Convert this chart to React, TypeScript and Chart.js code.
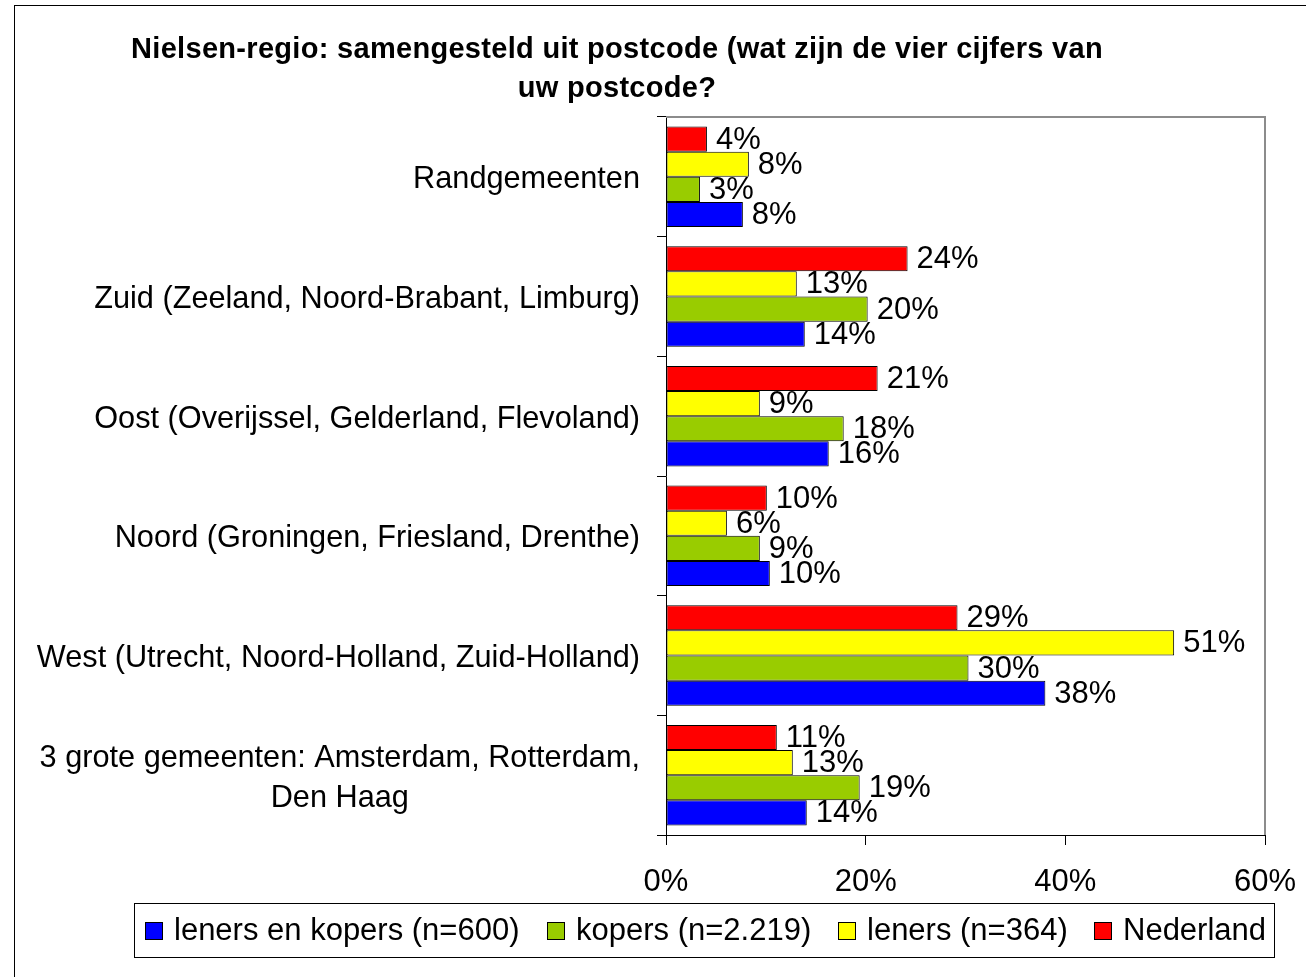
import React, { useEffect, useRef } from "react";
import { Chart, registerables } from "chart.js";

Chart.register(...registerables);

const FONT = '"Liberation Sans", Arial, sans-serif';

const titleLines = [
  "Nielsen-regio: samengesteld uit postcode (wat zijn de vier cijfers van",
  "uw postcode?",
];

const categories: (string | string[])[] = [
  "Randgemeenten",
  "Zuid (Zeeland, Noord-Brabant, Limburg)",
  "Oost (Overijssel, Gelderland, Flevoland)",
  "Noord (Groningen, Friesland, Drenthe)",
  "West (Utrecht, Noord-Holland, Zuid-Holland)",
  ["3 grote gemeenten: Amsterdam, Rotterdam,", "Den Haag"],
];

const nederland = [4.1, 24.2, 21.2, 10.1, 29.2, 11.1];
const leners = [8.3, 13.1, 9.4, 6.1, 50.9, 12.7];
const kopers = [3.4, 20.2, 17.8, 9.4, 30.3, 19.4];
const lenersEnKopers = [7.7, 13.9, 16.3, 10.4, 38.0, 14.1];

const seriesNames = [
  "Nederland",
  "leners (n=364)",
  "kopers (n=2.219)",
  "leners en kopers (n=600)",
];
const seriesColors = ["#FF0000", "#FFFF00", "#99CC00", "#0000FF"];

const xTickValues = [0, 20, 40, 60];

const decorPlugin = {
  id: "decor",
  beforeDraw(chart: any) {
    const ctx = chart.ctx;
    ctx.save();
    ctx.fillStyle = "#ffffff";
    ctx.fillRect(0, 0, chart.width, chart.height);
    ctx.restore();
  },
  beforeDatasetsDraw(chart: any) {
    const ctx = chart.ctx;
    const ca = chart.chartArea;
    ctx.save();
    ctx.strokeStyle = "#8c8c8c";
    ctx.lineWidth = 2;
    ctx.beginPath();
    ctx.moveTo(ca.left, ca.top);
    ctx.lineTo(ca.right, ca.top);
    ctx.lineTo(ca.right, ca.bottom);
    ctx.stroke();
    ctx.restore();
  },
  afterDatasetsDraw(chart: any) {
    const ctx = chart.ctx;
    ctx.save();
    ctx.font = `31px ${FONT}`;
    ctx.fillStyle = "#000";
    ctx.textAlign = "left";
    ctx.textBaseline = "middle";
    chart.data.datasets.forEach((ds: any, di: number) => {
      const meta = chart.getDatasetMeta(di);
      meta.data.forEach((el: any, i: number) => {
        const v = ds.data[i];
        ctx.fillText(`${Math.round(v)}%`, el.x + 9, el.y + 1);
      });
    });
    ctx.restore();
  },
  afterDraw(chart: any) {
    const ctx = chart.ctx;
    const yScale = chart.scales.y;
    ctx.save();
    // outer frame
    ctx.strokeStyle = "#000";
    ctx.lineWidth = 1;
    ctx.strokeRect(14.5, 5.5, 1400, 1100);

    // title
    ctx.font = `bold 29px ${FONT}`;
    try {
      (ctx as any).letterSpacing = "0.3px";
    } catch (e) {}
    ctx.fillStyle = "#000";
    ctx.textAlign = "center";
    ctx.textBaseline = "middle";
    ctx.fillText(titleLines[0], 617, 50);
    ctx.fillText(titleLines[1], 617, 89);
    try {
      (ctx as any).letterSpacing = "0px";
    } catch (e) {}

    // category labels
    ctx.font = `30.7px ${FONT}`;
    const labelRight = 640;
    chart.data.labels.forEach((lab: any, i: number) => {
      const yc = yScale.getPixelForTick(i) + 3;
      const lines: string[] = Array.isArray(lab) ? lab : [lab];
      const lh = 40;
      const maxW = Math.max(...lines.map((l) => ctx.measureText(l).width));
      lines.forEach((l, li) => {
        const y = yc + (li - (lines.length - 1) / 2) * lh;
        if (lines.length > 1) {
          ctx.textAlign = "center";
          ctx.fillText(l, labelRight - maxW / 2, y);
        } else {
          ctx.textAlign = "right";
          ctx.fillText(l, labelRight, y);
        }
      });
    });

    // legend
    ctx.font = `31px ${FONT}`;
    const boxL = 134,
      boxT = 903,
      boxR = 1274,
      boxB = 957;
    ctx.strokeStyle = "#000";
    ctx.lineWidth = 1;
    ctx.strokeRect(boxL + 0.5, boxT + 0.5, boxR - boxL, boxB - boxT);
    const items = chart.data.datasets
      .map((ds: any) => ({ label: ds.label, color: ds.backgroundColor }))
      .reverse();
    const sq = 18;
    const sqGap = 11;
    const itemGap = 27;
    const widths = items.map(
      (it: any) => sq + sqGap + ctx.measureText(it.label).width
    );
    const total =
      widths.reduce((a: number, b: number) => a + b, 0) +
      itemGap * (items.length - 1);
    let x = Math.round((boxL + boxR) / 2 - total / 2 + 2);
    const yc = (boxT + boxB) / 2;
    ctx.textAlign = "left";
    ctx.textBaseline = "middle";
    items.forEach((it: any, k: number) => {
      const sx = Math.round(x);
      const sy = Math.round(yc - sq / 2 + 1);
      ctx.fillStyle = it.color;
      ctx.fillRect(sx, sy, sq, sq);
      ctx.strokeStyle = "#000";
      ctx.strokeRect(sx + 0.5, sy + 0.5, sq - 1, sq - 1);
      ctx.fillStyle = "#000";
      ctx.fillText(it.label, sx + sq + sqGap, yc + 1);
      x += widths[k] + itemGap;
    });
    ctx.restore();
  },
};

export default function App() {
  const canvasRef = useRef<HTMLCanvasElement | null>(null);

  useEffect(() => {
    document.body.style.margin = "0";
    const canvas = canvasRef.current;
    if (!canvas) return;
    const values = [nederland, leners, kopers, lenersEnKopers];
    const chart = new Chart(canvas, {
      type: "bar",
      data: {
        labels: categories as any,
        datasets: values.map((d, i) => ({
          label: seriesNames[i],
          data: d,
          backgroundColor: seriesColors[i],
          borderColor: "#000",
          borderWidth: 1,
          borderSkipped: false,
          categoryPercentage: 0.84,
          barPercentage: 1.0,
        })),
      },
      options: {
        indexAxis: "y",
        responsive: false,
        animation: false,
        devicePixelRatio: 1,
        layout: { padding: { top: 117, right: 41, bottom: 0, left: 0 } },
        plugins: {
          legend: { display: false },
          title: { display: false },
          tooltip: { enabled: false },
        },
        scales: {
          x: {
            type: "linear",
            min: 0,
            max: 60,
            afterBuildTicks: (scale: any) => {
              scale.ticks = xTickValues.map((v) => ({ value: v }));
            },
            afterFit: (scale: any) => {
              scale.height = 142;
              scale.paddingLeft = 0;
              scale.paddingRight = 0;
            },
            ticks: {
              font: { family: FONT, size: 31 },
              color: "#000",
              padding: 19,
              maxRotation: 0,
              callback: (v: any) => `${v}%`,
            },
            grid: {
              drawOnChartArea: false,
              drawTicks: true,
              tickLength: 10,
              color: "#000",
            },
            border: { display: true, color: "#000", width: 1 },
          },
          y: {
            type: "category",
            afterFit: (scale: any) => {
              scale.width = 666;
              scale.paddingTop = 0;
              scale.paddingBottom = 0;
            },
            ticks: { display: false },
            grid: {
              offset: true,
              drawOnChartArea: false,
              drawTicks: true,
              tickLength: 9,
              color: "#000",
            },
            border: { display: true, color: "#000", width: 1 },
          },
        },
      },
      plugins: [decorPlugin],
    } as any);
    return () => chart.destroy();
  }, []);

  return (
    <canvas
      ref={canvasRef}
      width={1306}
      height={977}
      style={{ display: "block", width: 1306, height: 977 }}
    />
  );
}
